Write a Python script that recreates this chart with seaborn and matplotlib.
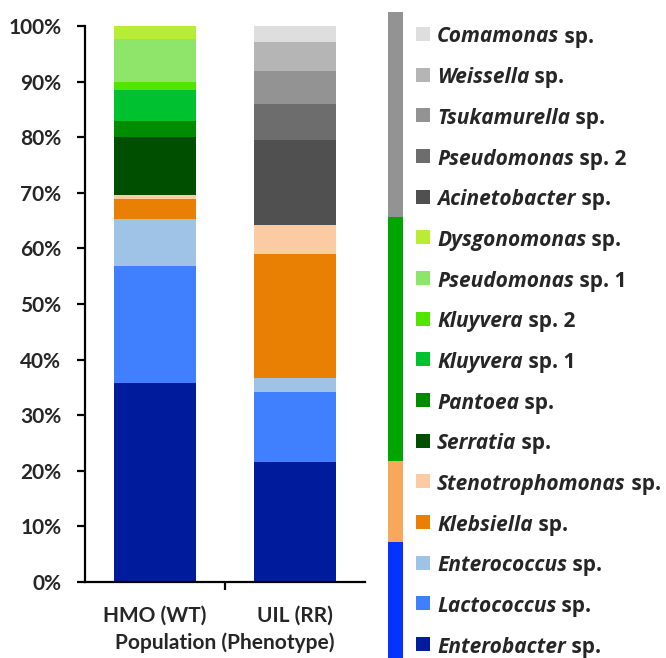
import matplotlib
matplotlib.use('Agg')

import matplotlib.pyplot as plt
import seaborn as sns
import pandas as pd
from matplotlib.patches import Rectangle

# ================= DATA =================

populations = ['HMO (WT)', 'UIL (RR)']

# legend order, top to bottom
genus = ['Comamonas', 'Weissella', 'Tsukamurella', 'Pseudomonas', 'Acinetobacter',
         'Dysgonomonas', 'Pseudomonas', 'Kluyvera', 'Kluyvera', 'Pantoea', 'Serratia',
         'Stenotrophomonas', 'Klebsiella', 'Enterococcus', 'Lactococcus', 'Enterobacter']
suffix = ['sp.', 'sp.', 'sp.', 'sp. 2', 'sp.',
          'sp.', 'sp. 1', 'sp. 2', 'sp. 1', 'sp.', 'sp.',
          'sp.', 'sp.', 'sp.', 'sp.', 'sp.']

hmo = [0, 0, 0, 0, 0, 2.3, 7.8, 1.4, 5.6, 2.9, 10.4, 0.7, 3.6, 8.5, 21.0, 35.8]
uil = [2.9, 5.2, 5.9, 6.5, 15.3, 0, 0, 0, 0, 0, 0, 5.2, 22.3, 2.6, 12.5, 21.6]

colors = ['#DEDEDE', '#B5B5B5', '#939393', '#6D6D6D', '#505050',
          '#B9ED35', '#8FE569', '#50E600', '#00C12F', '#008C00', '#004F00',
          '#FBCBA3', '#E98003', '#9FC2E7', '#4080FF', '#001C9C']

groups = ['gray'] * 5 + ['green'] * 6 + ['orange'] * 2 + ['blue'] * 3
group_colors = {'gray': '#939393', 'green': '#00A500',
                'orange': '#F8A85A', 'blue': '#0433FF'}

yticks = [0, 10, 20, 30, 40, 50, 60, 70, 80, 90, 100]

taxa = [f'{g} {s}' for g, s in zip(genus, suffix)]

rows = []
for pop, vals in zip(populations, [hmo, uil]):
    for t, v in zip(taxa, vals):
        if v > 0:
            rows.append({'population': pop, 'taxon': t, 'pct': v})
df = pd.DataFrame(rows)

# ================= FIGURE =================

W, H = 666, 658

sns.set_theme(style='white')
plt.rcParams['font.family'] = ['Lato', 'DejaVu Sans']
plt.rcParams['font.weight'] = 'bold'

fig = plt.figure(figsize=(W / 100, H / 100), dpi=100)


def fx(x):
    return x / W


def fy(y):
    return 1 - y / H


ax = fig.add_axes([fx(85), fy(582), fx(365) - fx(85), fy(26) - fy(582)])

sns.histplot(
    data=df,
    x='population',
    hue='taxon',
    weights='pct',
    multiple='stack',
    discrete=True,
    shrink=0.58,
    hue_order=taxa,
    palette=dict(zip(taxa, colors)),
    alpha=1,
    linewidth=0,
    legend=False,
    ax=ax
)

ax.set_xlim(-0.5, 1.5)
ax.set_ylim(0, 100)
ax.set_yticks(yticks)
ax.set_yticklabels([f'{v}%' for v in yticks], fontsize=15, fontweight='bold')
ax.set_xticks([0, 1])
ax.set_xticklabels(populations, fontsize=15, fontweight='bold')
ax.set_xticks([0.5], minor=True)
ax.tick_params(axis='x', which='major', length=0, pad=17)
ax.tick_params(axis='x', which='minor', length=6, width=1.6, direction='out',
               bottom=True, color='black')
ax.tick_params(axis='y', length=6, width=1.6, direction='out', left=True,
               color='black', pad=11)
ax.set_ylabel('')
ax.set_xlabel('Population (Phenotype)', fontsize=15, fontweight='bold', labelpad=5)

for side in ['top', 'right']:
    ax.spines[side].set_visible(False)
for side in ['left', 'bottom']:
    ax.spines[side].set_color('black')
    ax.spines[side].set_linewidth(1.6)

# ================= LEGEND =================

step = 40.67
y0 = 34
leg_font = ['Open Sans', 'DejaVu Sans']

for g in group_colors:
    idx = [i for i, k in enumerate(groups) if k == g]
    top = y0 + (idx[0] - 0.5) * step
    bot = y0 + (idx[-1] + 0.5) * step
    if idx[0] == 0:
        top = 12
    fig.patches.append(Rectangle((fx(388), fy(bot)), fx(15), fy(top) - fy(bot),
                                 transform=fig.transFigure,
                                 facecolor=group_colors[g], edgecolor='none'))

for i, (g, s, c) in enumerate(zip(genus, suffix, colors)):
    cy = y0 + i * step
    fig.patches.append(Rectangle((fx(416), fy(cy + 7)), fx(14), fy(cy - 7) - fy(cy + 7),
                                 transform=fig.transFigure,
                                 facecolor=c, edgecolor='none'))
    t1 = fig.text(fx(437), fy(cy + 3), g, fontsize=15, fontweight='bold',
                  fontstyle='italic', va='center', ha='left', family=leg_font)
    ann = matplotlib.text.Annotation(' ' + s, xy=(1, 0), xycoords=t1,
                                     va='bottom', ha='left', fontsize=15,
                                     fontweight='bold', family=leg_font)
    fig.add_artist(ann)

plt.savefig('out.png', dpi=100)
plt.close()
